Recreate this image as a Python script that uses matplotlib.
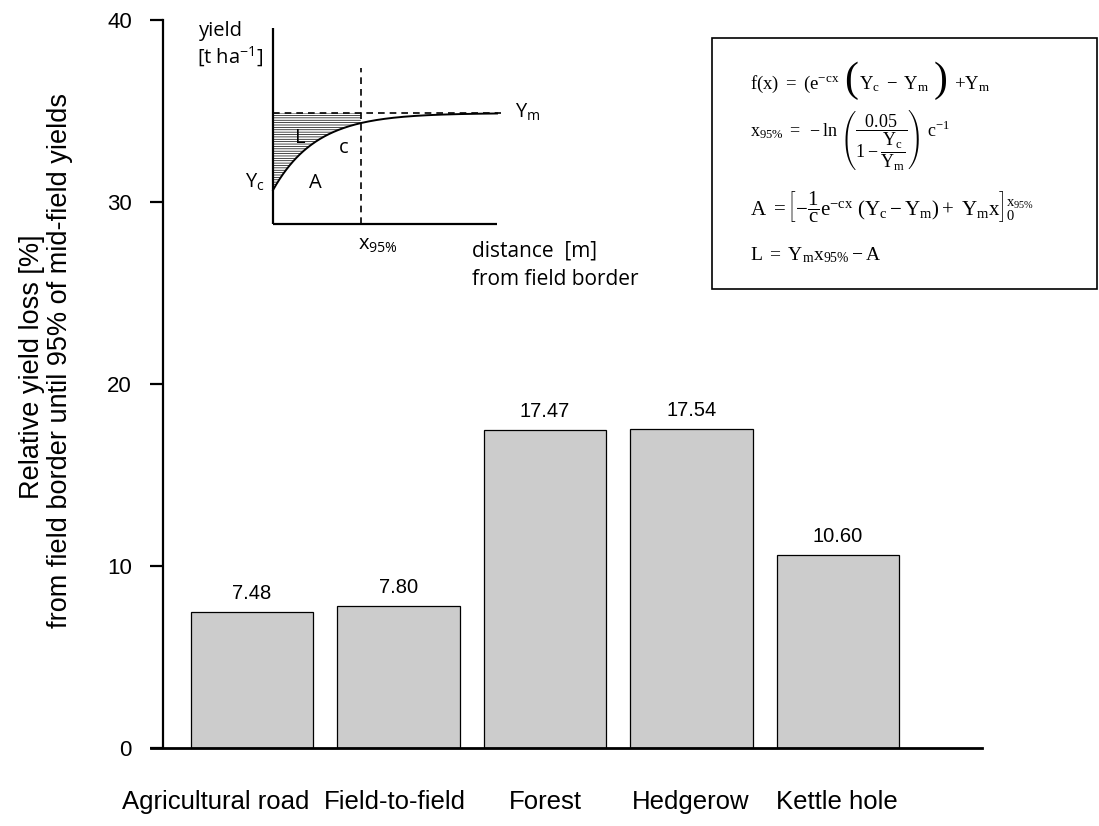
#!/usr/bin/env python3
"""
Relative yield loss per field border type, with a schematic inset of the
yield curve and the formulas used.
"""
import numpy as np
import matplotlib
matplotlib.use("Agg")
import matplotlib.pyplot as plt
from matplotlib.patches import Rectangle
from matplotlib.transforms import ScaledTranslation

# --- data -----------------------------------------------------------------
categories = ["Agricultural road", "Field-to-field", "Forest", "Hedgerow", "Kettle hole"]
loss_pct = [7.48, 7.80, 17.47, 17.54, 10.60]
yticks = [0, 10, 20, 30, 40]

# schematic inset (axes units 0..1)
Y_c = 0.173
Y_m = 0.566
x_95 = 0.393
rate_c = 5.2

W, H = 1099, 826

plt.rcParams['font.family'] = ['Liberation Sans', 'DejaVu Sans']
plt.rcParams['mathtext.fontset'] = 'custom'
plt.rcParams['mathtext.rm'] = 'Liberation Serif'
plt.rcParams['mathtext.it'] = 'Liberation Serif:italic'
plt.rcParams['mathtext.bf'] = 'Liberation Serif:bold'
plt.rcParams['mathtext.sf'] = 'Open Sans'
plt.rcParams['hatch.linewidth'] = 0.5


def fx(px):
    return px / W


def fy(py):
    return 1 - py / H


fig = plt.figure(figsize=(W / 100, H / 100), dpi=100)

# main bar axes: bars centred at 0..4, 146.5 px apart
x0_px, step = 252.0, 146.5
left_px, right_px = 151, 982
top_px, bot_px = 20, 748
ax = fig.add_axes([fx(left_px), fy(bot_px), (right_px - left_px) / W, (bot_px - top_px) / H])
ax.set_xlim((left_px - x0_px) / step, (right_px - x0_px) / step)
ax.set_ylim(0, 40)

xpos = np.arange(len(categories))
ax.bar(xpos, loss_pct, width=1 / 1.2, color="#cccccc", edgecolor="black", linewidth=0.9, zorder=2)
for xi, v in zip(xpos, loss_pct):
    ax.annotate(f"{v:.2f}", (xi, v), xytext=(0, 13.5), textcoords="offset points",
                ha="center", va="center", fontsize=14.5)

for s in ["top", "right"]:
    ax.spines[s].set_visible(False)
ax.spines["left"].set_position(("data", (163 - x0_px) / step))
ax.spines["left"].set_bounds(0, 40)
ax.spines["left"].set_linewidth(1.6)
ax.spines["bottom"].set_linewidth(2.0)

ax.set_yticks(yticks)
ax.tick_params(axis="y", direction="out", length=9.5, width=1.6, pad=13, labelsize=16)
ax.set_xticks(xpos, categories)
ax.tick_params(axis="x", length=0, pad=30, labelsize=18.5)
# the first label sits left of its bar in the original
label_shift_px = [-36, -4, 0, -1, -1]
for lab, dx in zip(ax.get_xticklabels(), label_shift_px):
    lab.set_transform(lab.get_transform() + ScaledTranslation(dx / 100, 0, fig.dpi_scale_trans))

fig.text(fx(32), fy(367), "Relative yield loss [%]", rotation=90,
         ha="center", va="center", fontsize=19.5)
fig.text(fx(60), fy(360), "from field border until 95% of mid-field yields", rotation=90,
         ha="center", va="center", fontsize=19.5)

# --- schematic inset ------------------------------------------------------
ins = fig.add_axes([fx(273), fy(224), (497 - 273) / W, (224 - 28) / H])
ins.set_xlim(0, 1)
ins.set_ylim(0, 1)
ins.axis("off")

xs = np.linspace(0, 1, 200)
curve = (Y_c - Y_m) * np.exp(-rate_c * xs) + Y_m
ins.plot([0, 0], [0, 1], color="black", lw=1.6, solid_capstyle="butt", clip_on=False)
ins.plot([0, 1], [0, 0], color="black", lw=1.6, solid_capstyle="butt", clip_on=False)
ins.plot([0, 1.02], [Y_m, Y_m], color="black", lw=1.2, ls=(0, (4, 3)), clip_on=False)
ins.plot([x_95, x_95], [0, 0.796], color="black", lw=1.2, ls=(0, (4, 3)), clip_on=False)
sel = xs <= x_95
ins.fill_between(xs[sel], curve[sel], Y_m, facecolor="none", edgecolor="black",
                 hatch="-------", linewidth=0)
ins.plot(xs, curve, color="black", lw=1.4, clip_on=False)

sans = ['Open Sans', 'DejaVu Sans']
tkw = dict(fontsize=14.5, family=sans, va="baseline", ha="left")


def itext(px, py, s, **kw):
    d = dict(tkw)
    d.update(kw)
    fig.text(fx(px), fy(py), s, **d)


itext(199, 36, "yield")
itext(197, 64, r"[t ha$\mathsf{^{-1}}$]")
itext(515, 118, r"Y$\mathsf{_{m}}$")
itext(245, 188, r"Y$\mathsf{_{c}}$")
itext(295, 143, "L")
itext(339, 153, "c")
itext(309, 188, "A")
itext(358, 250, r"x$\mathsf{_{95\%}}$")
itext(472, 256, "distance  [m]", fontsize=15)
itext(472, 285, "from field border", fontsize=15)

# --- formula box ----------------------------------------------------------
fig.patches.append(Rectangle((fx(712), fy(289)), fx(1097) - fx(712), fy(38) - fy(289),
                             transform=fig.transFigure, fill=False, edgecolor="black",
                             linewidth=1.2))
eq_x = 750

# first formula: pieces laid out one after the other so the big brackets fit
renderer = fig.canvas.get_renderer()
pieces = [(r"$\mathrm{f(x)\ =\ (e^{-cx}}$", 13.5, 5),
          ("(", 30, 1),
          (r"$\mathrm{Y_c\ -\ Y_m}$", 13.5, 4),
          (")", 30, 6),
          (r"$\mathrm{+Y_m}$", 13.5, 0)]
cur = eq_x
for s, size, gap in pieces:
    if size > 20:
        t = fig.text(fx(cur), fy(81), s, fontsize=size, family='Liberation Serif',
                     ha="left", va="center")
    else:
        t = fig.text(fx(cur), fy(89), s, fontsize=size, ha="left", va="baseline")
    cur += t.get_window_extent(renderer).width + gap

fig.text(fx(eq_x), fy(140),
         r"$\mathrm{x_{95\%}\ =\ -ln\ \left(\dfrac{0.05}{1-\dfrac{Y_c}{Y_m}}\right)\ c^{-1}}$",
         fontsize=13, ha="left", va="center")
fig.text(fx(eq_x), fy(207),
         r"$\mathrm{A\ =\left[-\dfrac{1}{c}e^{-cx}\ (Y_c-Y_m)+\ Y_m x\right]_0^{x_{95\%}}}$",
         fontsize=15, ha="left", va="center")
fig.text(fx(eq_x), fy(255), r"$\mathrm{L\ =\ Y_m x_{95\%}-A}$",
         fontsize=14, ha="left", va="center")

fig.savefig("out.png", dpi=100)
